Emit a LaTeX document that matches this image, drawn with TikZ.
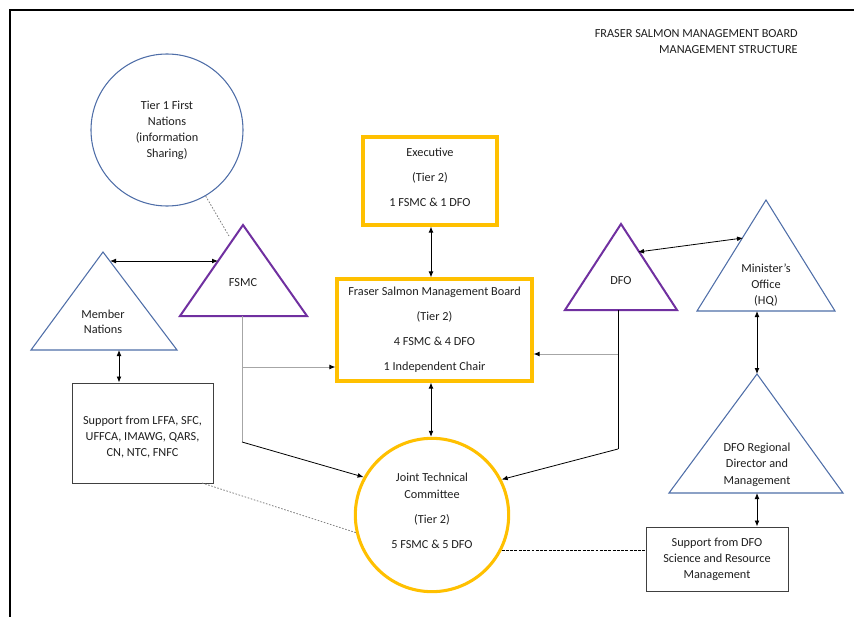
\documentclass[tikz,border=0pt]{standalone}
\usepackage{fontspec}
\setmainfont{Carlito}
\usetikzlibrary{arrows.meta}
\definecolor{gold}{HTML}{FFC000}
\definecolor{purp}{HTML}{7030A0}
\definecolor{blu}{HTML}{4F6EA8}
\definecolor{txt}{HTML}{1F1F1F}
\definecolor{lgray}{HTML}{A6A6A6}
\begin{document}
\begin{tikzpicture}[x=0.75pt,y=-0.75pt,
  lbl/.style={font=\fontsize{9.2}{#1}\selectfont, text=txt, align=center, inner sep=0pt},
  lbl/.default=12,
  tip/.tip={Latex[length=4.5pt,width=3.6pt,color=black]},
  arr/.style={-tip, line width=0.6pt},
  darr/.style={tip-tip, line width=0.6pt},
  bluetri/.style={draw=blu, line width=0.8pt},
  purptri/.style={draw=purp, line width=1.5pt},
  goldbox/.style={draw=gold, line width=2.3pt, rectangle, inner sep=0pt},
  plainbox/.style={draw=black!75, line width=0.75pt, rectangle, inner sep=0pt},
  dotln/.style={draw=gray, line width=0.6pt, dash pattern=on 1.2pt off 1.2pt},
  dashln/.style={draw=black, line width=0.5pt, dash pattern=on 2.2pt off 1pt},
]
\useasboundingbox (0,0) rectangle (854,617);
% frame
\draw[line width=1.5pt] (10,617) -- (10,10) -- (854,10);

% title
\node[lbl=11.5, align=right, anchor=east] (title) at (798,41.5)
  {FRASER SALMON MANAGEMENT BOARD\\MANAGEMENT STRUCTURE};

% Tier 1 circle
\node[circle, draw=blu, line width=0.8pt, minimum size=114pt, lbl] (t1) at (167,130)
  {Tier 1 First\\Nations\\(information\\Sharing)};

% triangles
\coordinate (mnA) at (103,252); \coordinate (mnL) at (31,350); \coordinate (mnR) at (177,350);
\draw[bluetri] (mnA) -- (mnL) -- (mnR) -- cycle;
\node[lbl=11.5] (mnT) at (103,322) {Member\\Nations};

\coordinate (fsA) at (243,225); \coordinate (fsL) at (180,316); \coordinate (fsR) at (307,316);
\draw[purptri] (fsA) -- (fsL) -- (fsR) -- cycle;
\node[lbl] (fsT) at (243,283) {FSMC};

\coordinate (dfA) at (621,224); \coordinate (dfL) at (565,310); \coordinate (dfR) at (677,310);
\draw[purptri] (dfA) -- (dfL) -- (dfR) -- cycle;
\node[lbl] (dfT) at (621,281) {DFO};

\coordinate (miA) at (766,200); \coordinate (miL) at (697,311); \coordinate (miR) at (835,311);
\draw[bluetri] (miA) -- (miL) -- (miR) -- cycle;
\node[lbl=12] (miT) at (766,285) {Minister’s\\Office\\(HQ)};

\coordinate (reA) at (757,374); \coordinate (reL) at (669,493); \coordinate (reR) at (843,493);
\draw[bluetri] (reA) -- (reL) -- (reR) -- cycle;
\node[lbl=12.3] (reT) at (757,464.5) {DFO Regional\\Director and\\Management};

% boxes
\node[goldbox, minimum width=100.5pt, minimum height=66pt] (exec) at (430,181) {};
\node[lbl=18.75] (execT) at (430,177) {Executive\\(Tier 2)\\1 FSMC \& 1 DFO};

\node[goldbox, minimum width=146.25pt, minimum height=76.5pt, lbl=18.75] (fsmb) at (434.5,330)
  {Fraser Salmon Management Board\\(Tier 2)\\4 FSMC \& 4 DFO\\1 Independent Chair};

\node[plainbox, minimum width=105.75pt, minimum height=75pt] (supp) at (142.5,433) {};
\node[lbl=12] (suppT) at (142.5,437) {Support from LFFA, SFC,\\UFFCA, IMAWG, QARS,\\CN, NTC, FNFC};

\node[plainbox, minimum width=106.5pt, minimum height=48pt, lbl=12] (sdfo) at (717,559)
  {Support from DFO\\Science and Resource\\Management};

% JTC circle
\node[circle, draw=gold, line width=2.3pt, minimum size=115pt, lbl=12.75] (jtc) at (432,515) {};
\node[lbl=12.75] (jtcT) at (432,511)
  {Joint Technical\\Committee\\[6pt](Tier 2)\\[6pt]5 FSMC \& 5 DFO};

% connectors
\coordinate (t1end) at (229,236);
\draw[dotln] (t1) -- (t1end);

\coordinate (mnE) at (110,261); \coordinate (fsW) at (218,261);
\draw[darr] (mnE) -- (fsW);

\coordinate (mnB) at (119,350);
\draw[darr] (mnB) -- (mnB |- supp.north);

\coordinate (fsB) at (242,316); \coordinate (fsK) at (242,442); \coordinate (fsH) at (242,367);
\draw[draw=lgray, line width=0.7pt] (fsB) -- (fsK);
\draw[arr, draw=lgray] (fsH) -- (fsH -| fsmb.west);
\draw[arr] (fsK) -- (jtc.151);

\draw[darr] (exec.south -| 431,0) -- (fsmb.north -| 431,0);
\draw[darr] (fsmb.south -| 431,0) -- (jtc.north -| 431,0);

\coordinate (dfB) at (618,310); \coordinate (dfK) at (618,449); \coordinate (dfH) at (618,354);
\draw[line width=0.6pt] (dfB) -- (dfK);
\draw[arr, draw=lgray] (dfH) -- (dfH -| fsmb.east);
\draw[arr] (dfK) -- (jtc.27.5);

\coordinate (dfE) at (638,252); \coordinate (miW) at (743,238);
\draw[darr] (dfE) -- (miW);

\coordinate (miB) at (757,311);
\draw[darr] (miB) -- (reA);
\coordinate (reB) at (757,493);
\draw[darr] (reB) -- (reB |- sdfo.north);

\coordinate (suppC) at (202,483);
\draw[dotln] (suppC) -- (jtc.193.5);
\draw[dashln] (jtc.-27) -- (jtc.-27 -| sdfo.west);
\end{tikzpicture}
\end{document}
